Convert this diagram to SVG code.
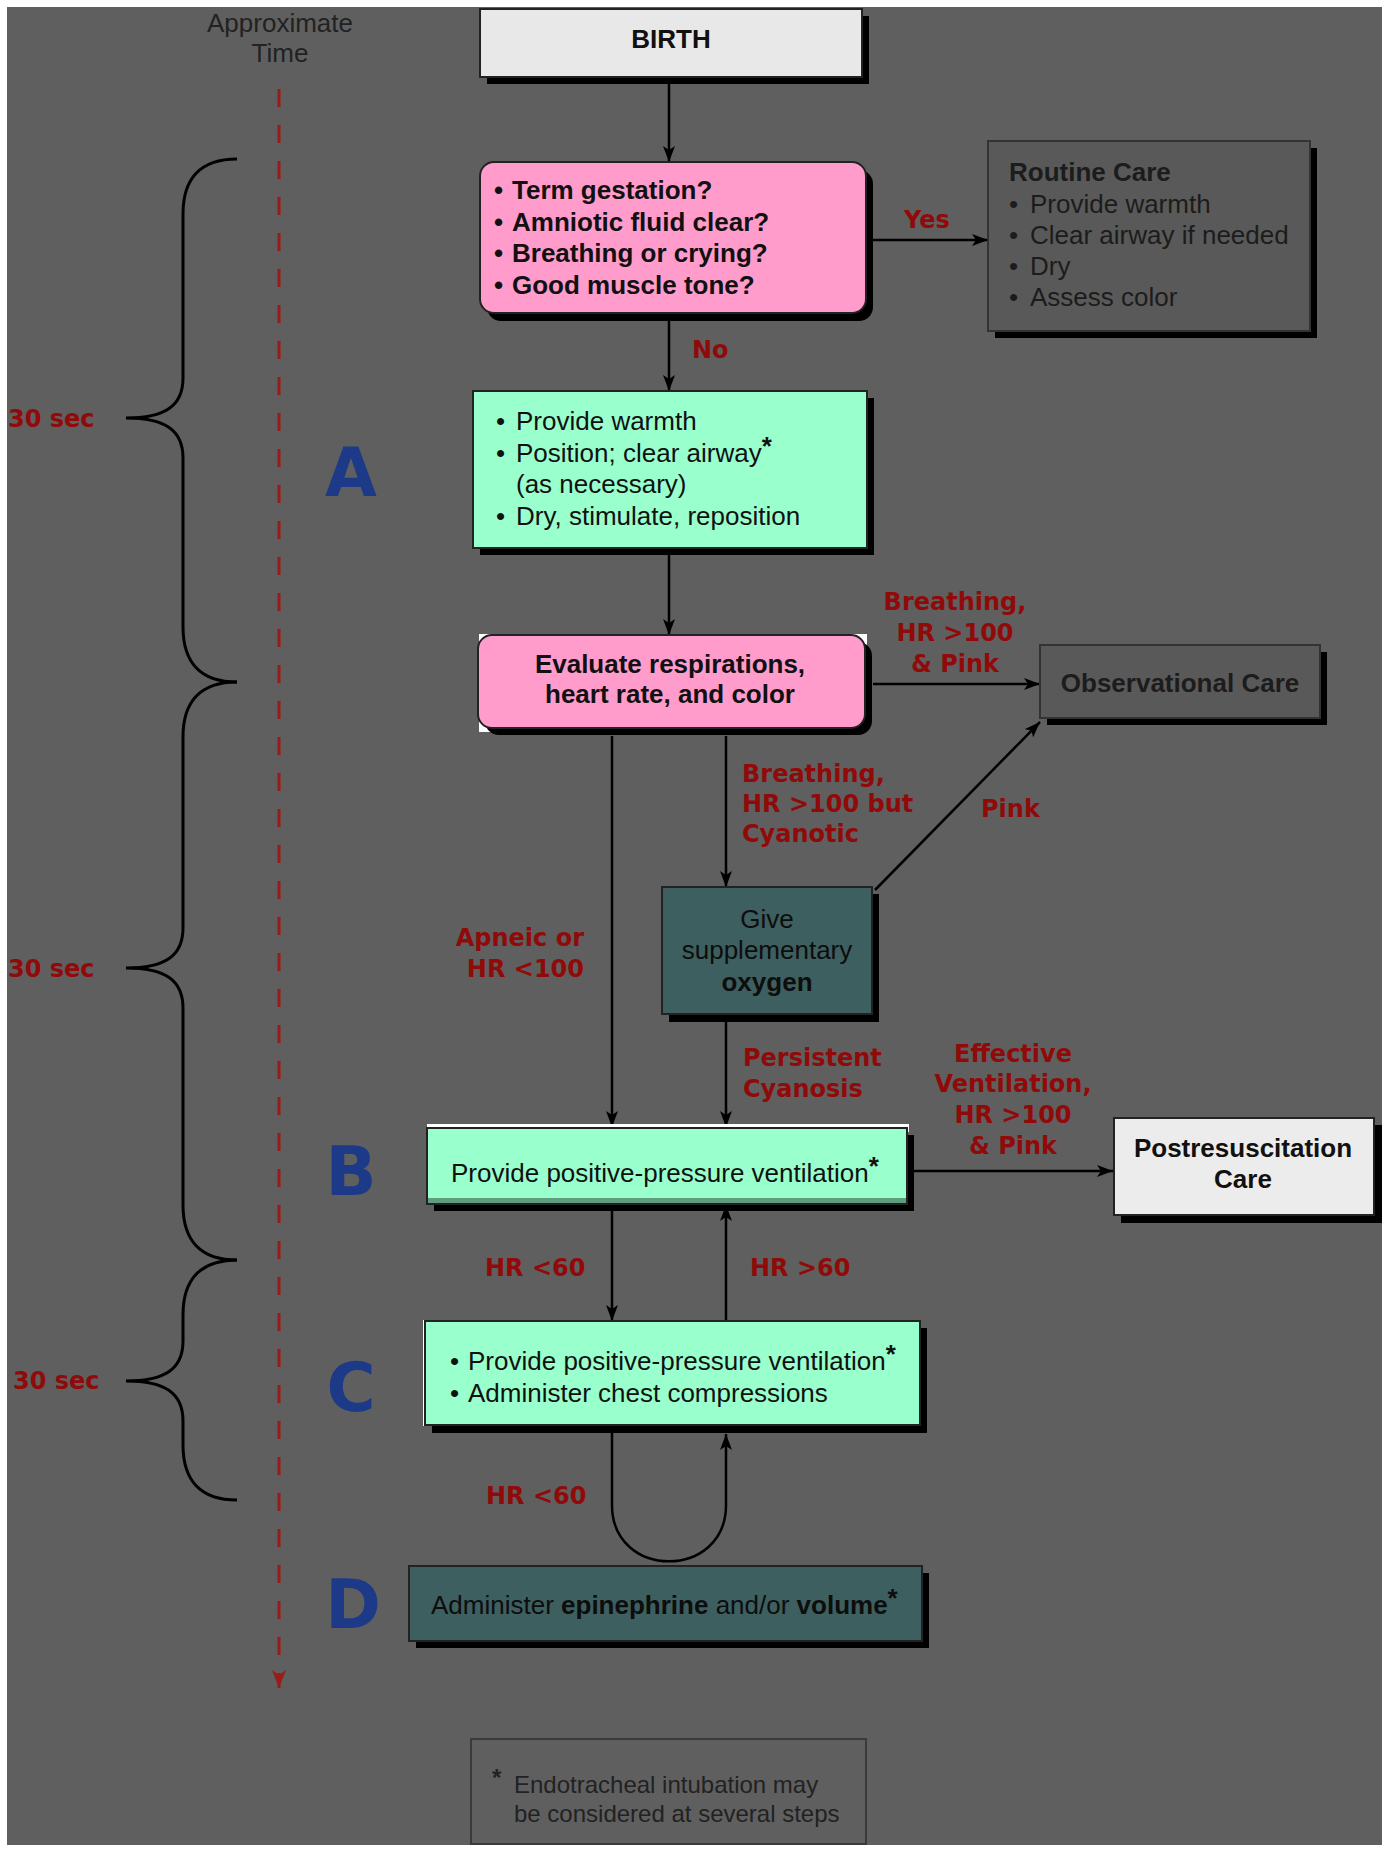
<svg xmlns="http://www.w3.org/2000/svg" width="1393" height="1855" viewBox="0 0 1393 1855">
<defs>
<marker id="ah" markerUnits="userSpaceOnUse" markerWidth="17" markerHeight="13" refX="16" refY="6" orient="auto"><path d="M0,0 L16,6 L0,12 L4,6 z" fill="#000"/></marker>
<marker id="ahr" markerUnits="userSpaceOnUse" markerWidth="20" markerHeight="16" refX="18" refY="7" orient="auto"><path d="M0,0 L18,7 L0,14 L5,7 z" fill="#9b1a1a"/></marker>
</defs>
<style>
.nt{font-family:'Liberation Sans',Arial,sans-serif;font-size:26px;fill:#111}
.dk{fill:#1c1c1c}
.b{font-weight:bold}
.lbl{font-family:'DejaVu Sans',sans-serif;font-weight:bold;font-size:24px;fill:#900a0a}
.let{font-family:'DejaVu Sans',sans-serif;font-weight:bold;font-size:67px;fill:#1d3a88;text-anchor:middle}
.sh{fill:#000}
.bx{stroke:#222;stroke-width:2}
.conn{stroke:#000;stroke-width:2.5;fill:none;marker-end:url(#ah)}
.brace{stroke:#000;stroke-width:3;fill:none}
.mid{text-anchor:middle}
.end{text-anchor:end}
</style>
<rect x="0" y="0" width="1393" height="1855" fill="#fff"/>
<rect x="7" y="7" width="1375" height="1838" fill="#5f5f5f"/>

<g id="timeline">
<text class="nt mid" x="280" y="32" style="fill:#222">Approximate</text>
<text class="nt mid" x="280" y="62" style="fill:#222">Time</text>
<line x1="279" y1="89" x2="279" y2="1688" stroke="#9b1a1a" stroke-width="3" stroke-dasharray="18 18" marker-end="url(#ahr)"/>
<path class="brace" d="M237,159 C200,159 183,179 183,214 L183,378 C183,406 165,418 126,418 C165,418 183,430 183,458 L183,627 C183,662 200,682 237,682"/>
<path class="brace" d="M237,682 C200,682 183,702 183,737 L183,928 C183,956 165,968 126,968 C165,968 183,980 183,1008 L183,1205 C183,1240 200,1260 237,1260"/>
<path class="brace" d="M237,1260 C200,1260 183,1280 183,1315 L183,1341 C183,1369 165,1381 126,1381 C165,1381 183,1393 183,1421 L183,1445 C183,1480 200,1500 237,1500"/>
<text class="lbl" x="8" y="427">30 sec</text>
<text class="lbl" x="8" y="977">30 sec</text>
<text class="lbl" x="13" y="1389">30 sec</text>
<text class="let" x="351" y="496">A</text>
<text class="let" x="351" y="1195">B</text>
<text class="let" x="351" y="1411">C</text>
<text class="let" x="353" y="1628">D</text>
</g>

<g id="connectors">
<path class="conn" d="M669,84 L669,162"/>
<path class="conn" d="M873,240 L988,240"/>
<path class="conn" d="M669,321 L669,391"/>
<path class="conn" d="M669,555 L669,635"/>
<path class="conn" d="M873,684 L1040,684"/>
<path class="conn" d="M612,736 L612,1127"/>
<path class="conn" d="M726,736 L726,887"/>
<path class="conn" d="M875,890 L1040,722"/>
<path class="conn" d="M726,1022 L726,1127"/>
<path class="conn" d="M914,1171 L1113,1171"/>
<path class="conn" d="M612,1211 L612,1321"/>
<path class="conn" d="M726,1321 L726,1205"/>
<path class="conn" d="M612,1433 L612,1505 C612,1580 726,1580 726,1505 L726,1434"/>
<text class="lbl" x="904" y="228">Yes</text>
<text class="lbl" x="692" y="358">No</text>
<text class="lbl mid" x="955" y="610">Breathing,</text>
<text class="lbl mid" x="955" y="641">HR &gt;100</text>
<text class="lbl mid" x="955" y="672">&amp; Pink</text>
<text class="lbl" x="742" y="782">Breathing,</text>
<text class="lbl" x="742" y="812">HR &gt;100 but</text>
<text class="lbl" x="742" y="842">Cyanotic</text>
<text class="lbl" x="981" y="817">Pink</text>
<text class="lbl end" x="584" y="946">Apneic or</text>
<text class="lbl end" x="584" y="977">HR &lt;100</text>
<text class="lbl" x="743" y="1066">Persistent</text>
<text class="lbl" x="743" y="1097">Cyanosis</text>
<text class="lbl mid" x="1013" y="1062">Effective</text>
<text class="lbl mid" x="1013" y="1092">Ventilation,</text>
<text class="lbl mid" x="1013" y="1123">HR &gt;100</text>
<text class="lbl mid" x="1013" y="1154">&amp; Pink</text>
<text class="lbl" x="485" y="1276">HR &lt;60</text>
<text class="lbl" x="750" y="1276">HR &gt;60</text>
<text class="lbl" x="486" y="1504">HR &lt;60</text>
</g>

<g id="birth">
<rect class="sh" x="487" y="16" width="382" height="68"/>
<rect class="bx" x="480" y="9" width="382" height="68" fill="#e8e8e8"/>
<text class="nt b mid" x="671" y="48">BIRTH</text>
</g>

<g id="assess">
<rect class="sh" x="487" y="170" width="386" height="151" rx="14"/>
<rect class="bx" x="480" y="162" width="386" height="151" rx="14" fill="#ff9ccc"/>
<text class="nt b"><tspan x="494" y="199">•</tspan><tspan x="512" y="199">Term gestation?</tspan><tspan x="494" y="231">•</tspan><tspan x="512" y="231">Amniotic fluid clear?</tspan><tspan x="494" y="262">•</tspan><tspan x="512" y="262">Breathing or crying?</tspan><tspan x="494" y="294">•</tspan><tspan x="512" y="294">Good muscle tone?</tspan></text>
</g>

<g id="routine">
<rect class="sh" x="995" y="148" width="322" height="190"/>
<rect x="988" y="141" width="322" height="190" fill="#595959" stroke="#333" stroke-width="2"/>
<text class="nt dk"><tspan x="1009" y="181" font-weight="bold">Routine Care</tspan><tspan x="1009" y="213">•</tspan><tspan x="1030" y="213">Provide warmth</tspan><tspan x="1009" y="244">•</tspan><tspan x="1030" y="244">Clear airway if needed</tspan><tspan x="1009" y="275">•</tspan><tspan x="1030" y="275">Dry</tspan><tspan x="1009" y="306">•</tspan><tspan x="1030" y="306">Assess color</tspan></text>
</g>

<g id="stepA">
<rect class="sh" x="480" y="398" width="394" height="157"/>
<rect class="bx" x="473" y="391" width="394" height="157" fill="#99ffcc"/>
<text class="nt"><tspan x="496" y="430">•</tspan><tspan x="516" y="430">Provide warmth</tspan><tspan x="496" y="462">•</tspan><tspan x="516" y="462">Position; clear airway</tspan><tspan dy="-7" font-weight="bold">*</tspan><tspan x="516" y="493">(as necessary)</tspan><tspan x="496" y="525">•</tspan><tspan x="516" y="525">Dry, stimulate, reposition</tspan></text>
</g>

<g id="evaluate">
<rect x="479" y="634" width="388" height="98" fill="#fff"/>
<rect class="sh" x="485" y="642" width="387" height="93" rx="14"/>
<rect class="bx" x="478" y="635" width="387" height="93" rx="14" fill="#ff9ccc"/>
<text class="nt b mid"><tspan x="670" y="673">Evaluate respirations,</tspan><tspan x="670" y="703">heart rate, and color</tspan></text>
</g>

<g id="observational">
<rect class="sh" x="1047" y="652" width="280" height="73"/>
<rect x="1040" y="645" width="280" height="73" fill="#595959" stroke="#333" stroke-width="2"/>
<text class="nt b dk mid" x="1180" y="692">Observational Care</text>
</g>

<g id="oxygen">
<rect class="sh" x="669" y="894" width="210" height="128"/>
<rect class="bx" x="662" y="887" width="210" height="127" fill="#3d5f5f"/>
<text class="nt mid" style="fill:#0d0d0d"><tspan x="767" y="928">Give</tspan><tspan x="767" y="959">supplementary</tspan><tspan x="767" y="991" font-weight="bold">oxygen</tspan></text>
</g>

<g id="stepB">
<rect x="427" y="1124" width="482" height="8" fill="#fff"/>
<rect class="sh" x="434" y="1135" width="480" height="76"/>
<rect class="bx" x="427" y="1128" width="480" height="76" fill="#99ffcc"/>
<rect x="428" y="1198" width="478" height="5" fill="#5e9e7e"/>
<text class="nt" x="451" y="1182">Provide positive-pressure ventilation<tspan dy="-7" font-weight="bold">*</tspan></text>
</g>

<g id="postresus">
<rect class="sh" x="1121" y="1125" width="261" height="98"/>
<rect class="bx" x="1114" y="1118" width="260" height="97" fill="#ececec"/>
<text class="nt b mid"><tspan x="1243" y="1157">Postresuscitation</tspan><tspan x="1243" y="1188">Care</tspan></text>
</g>

<g id="stepC">
<rect x="423" y="1320" width="4" height="106" fill="#fff"/>
<rect class="sh" x="432" y="1328" width="495" height="105"/>
<rect class="bx" x="425" y="1321" width="495" height="104" fill="#99ffcc"/>
<text class="nt"><tspan x="450" y="1370">•</tspan><tspan x="468" y="1370">Provide positive-pressure ventilation</tspan><tspan dy="-7" font-weight="bold">*</tspan><tspan x="450" y="1402">•</tspan><tspan x="468" y="1402">Administer chest compressions</tspan></text>
</g>

<g id="stepD">
<rect class="sh" x="416" y="1573" width="513" height="75"/>
<rect class="bx" x="409" y="1566" width="513" height="75" fill="#3d5f5f"/>
<text class="nt" x="431" y="1614" style="fill:#0d0d0d">Administer <tspan font-weight="bold">epinephrine</tspan> and/or <tspan font-weight="bold">volume</tspan><tspan dy="-7" font-weight="bold">*</tspan></text>
</g>

<g id="footnote">
<rect x="471" y="1739" width="395" height="105" fill="#5f5f5f" stroke="#3a3a3a" stroke-width="2"/>
<text class="nt" style="fill:#222;font-size:24px"><tspan x="492" y="1786" font-weight="bold">*</tspan><tspan x="514" y="1793">Endotracheal intubation may</tspan><tspan x="514" y="1822">be considered at several steps</tspan></text>
</g>
</svg>
